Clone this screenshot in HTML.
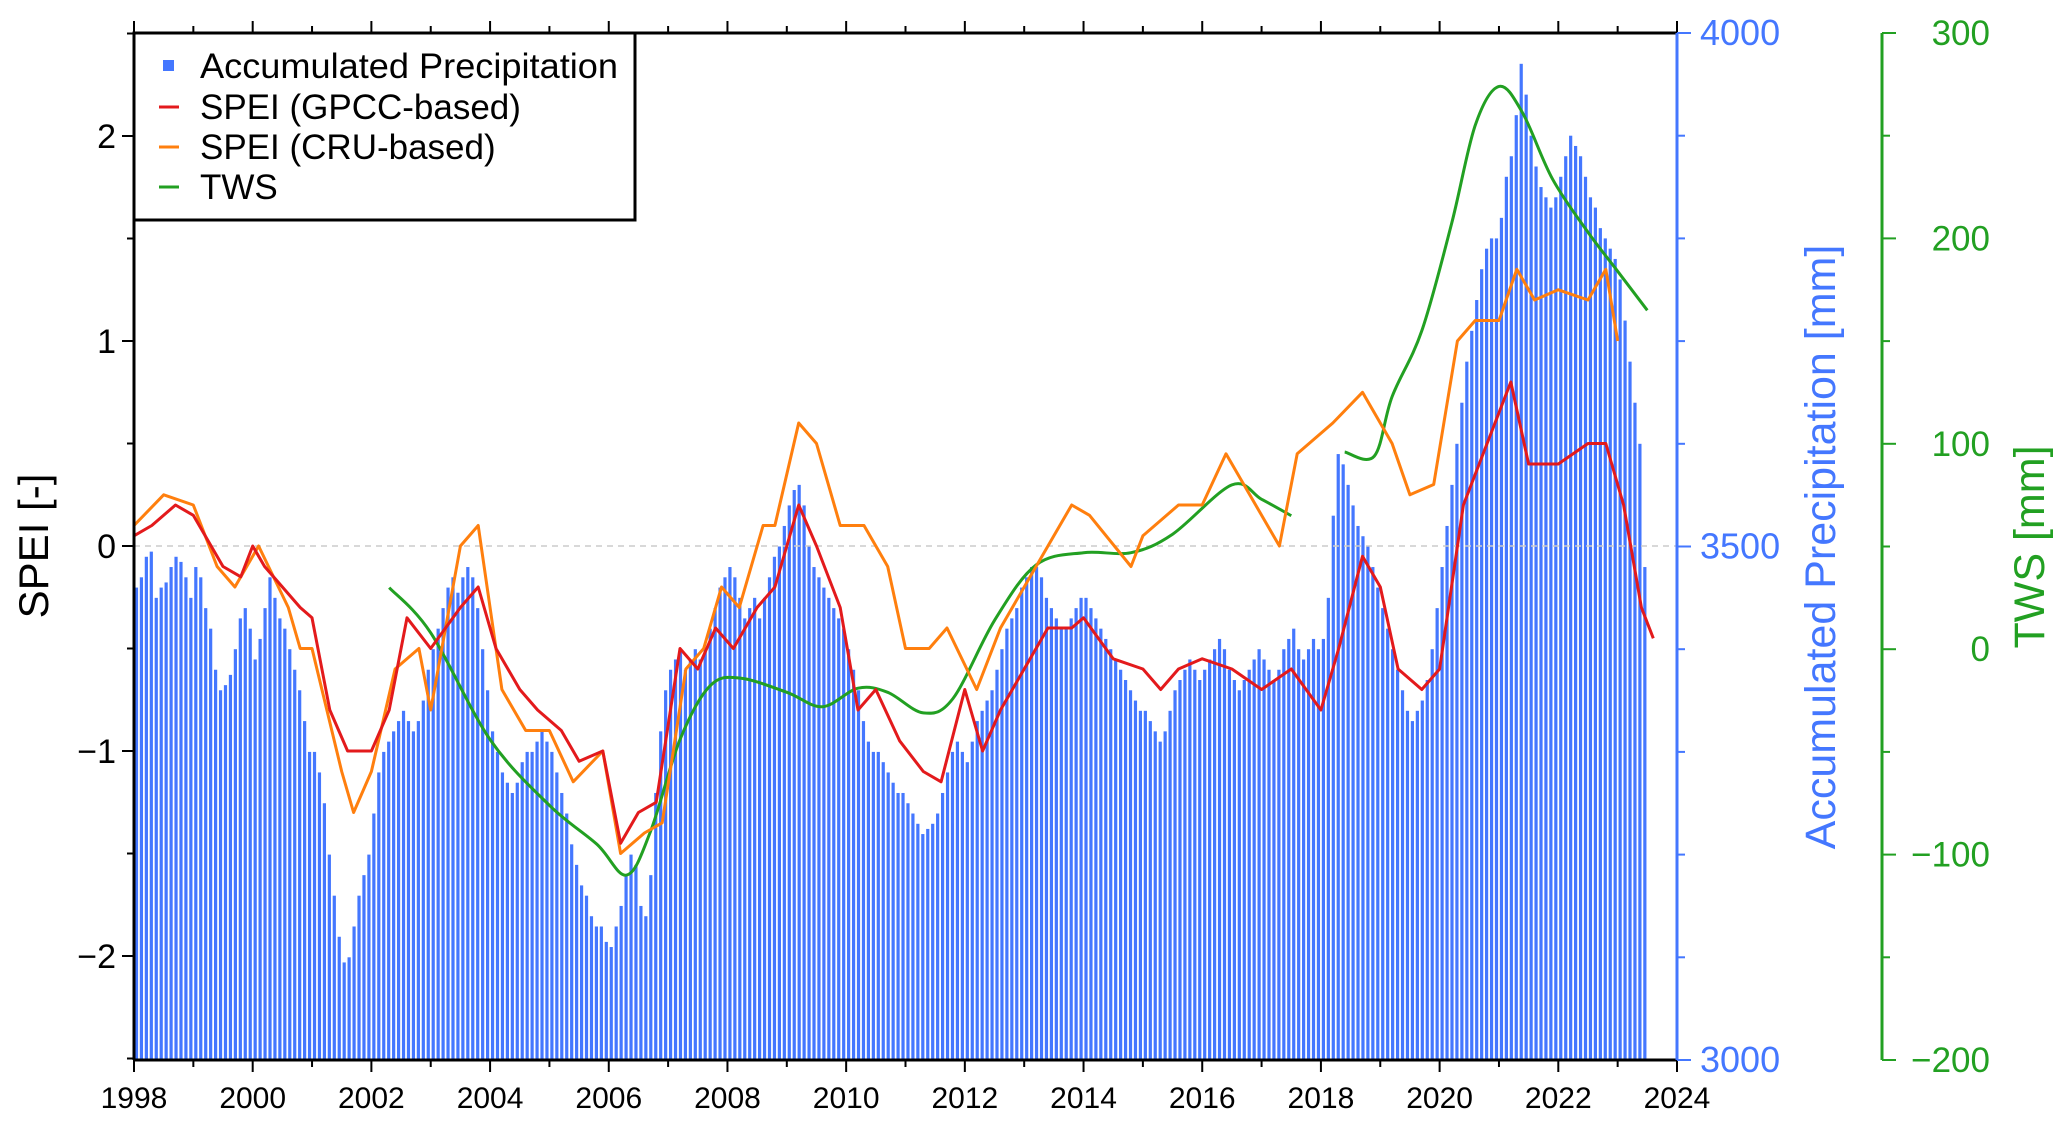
<!DOCTYPE html>
<html><head><meta charset="utf-8"><style>
html,body{margin:0;padding:0;background:#fff;}
svg{display:block;font-family:"Liberation Sans",sans-serif;}
</style></head><body>
<svg id="chart" width="2067" height="1128" viewBox="0 0 2067 1128" xmlns="http://www.w3.org/2000/svg">
<rect width="2067" height="1128" fill="#fff"/>
<g id="bars"></g>
<line x1="134" x2="1677" y1="546" y2="546" stroke="#ccc" stroke-width="1.5" stroke-dasharray="6,5"/>
<g id="lines"></g>
<g id="axes"></g>
<g>
<rect x="134" y="33" width="501" height="187" fill="#fff" stroke="#000" stroke-width="3"/>
<rect x="163" y="60" width="11" height="11" fill="#4477ff"/>
<text x="200" y="78" font-size="35" textLength="418" lengthAdjust="spacingAndGlyphs">Accumulated Precipitation</text>
<line x1="159" x2="179" y1="107" y2="107" stroke="#e31a1c" stroke-width="3"/>
<text x="200" y="119" font-size="35">SPEI (GPCC-based)</text>
<line x1="159" x2="179" y1="147" y2="147" stroke="#ff7f0e" stroke-width="3"/>
<text x="200" y="159" font-size="35">SPEI (CRU-based)</text>
<line x1="159" x2="179" y1="187" y2="187" stroke="#22a022" stroke-width="3"/>
<text x="200" y="199" font-size="35">TWS</text>
</g>
<text transform="translate(48,546) rotate(-90)" text-anchor="middle" font-size="42">SPEI [-]</text>
<text transform="translate(1835,547) rotate(-90)" text-anchor="middle" font-size="43" fill="#4477ff">Accumulated Precipitation [mm]</text>
<text transform="translate(2044,547) rotate(-90)" text-anchor="middle" font-size="43" fill="#22a022">TWS [mm]</text>
</svg>
<script>
const precipStartYear = 1998;
const precipValues = [
3460,3470,3490,3495,3450,3460,3465,3480,3490,3485,3470,3450,
3480,3470,3440,3420,3380,3360,3365,3375,3400,3430,3440,3420,
3390,3410,3440,3470,3450,3430,3420,3400,3380,3360,3330,3300,
3300,3280,3250,3200,3160,3120,3095,3100,3130,3160,3180,3200,
3240,3280,3300,3310,3320,3330,3340,3330,3320,3330,3350,3380,
3400,3420,3440,3460,3470,3455,3470,3480,3470,3440,3400,3360,
3320,3300,3280,3270,3260,3270,3290,3300,3300,3310,3320,3310,
3300,3280,3260,3240,3210,3190,3170,3160,3140,3130,3130,3115,
3110,3130,3150,3180,3200,3190,3150,3140,3180,3260,3320,3360,
3380,3390,3400,3380,3390,3400,3390,3400,3420,3440,3460,3470,
3480,3470,3450,3430,3440,3450,3430,3450,3470,3490,3500,3520,
3540,3555,3560,3540,3500,3480,3470,3460,3450,3440,3430,3420,
3400,3380,3360,3330,3310,3300,3300,3290,3280,3270,3260,3260,
3250,3240,3230,3220,3225,3230,3240,3260,3280,3300,3310,3300,
3290,3310,3330,3340,3350,3360,3380,3400,3420,3430,3440,3460,
3470,3480,3480,3470,3450,3440,3430,3420,3420,3430,3440,3450,
3450,3440,3430,3420,3410,3400,3390,3380,3370,3360,3350,3340,
3340,3330,3320,3310,3320,3340,3360,3370,3380,3390,3380,3370,
3380,3390,3400,3410,3400,3380,3370,3360,3370,3380,3390,3400,
3390,3380,3370,3380,3400,3410,3420,3400,3390,3400,3410,3400,
3410,3450,3530,3590,3580,3560,3540,3520,3510,3500,3480,3460,
3440,3420,3400,3380,3360,3340,3330,3340,3350,3370,3400,3440,
3480,3520,3560,3600,3640,3680,3710,3740,3770,3790,3800,3800,
3820,3860,3880,3920,3970,3940,3900,3870,3850,3840,3830,3840,
3860,3880,3900,3890,3880,3860,3840,3830,3810,3800,3790,3780,
3760,3720,3680,3640,3600,3480];
const gpccDates = [1998.0,1998.3,1998.7,1999.0,1999.5,1999.8,2000.0,2000.2,2000.5,2000.8,2001.0,2001.3,2001.6,2002.0,2002.3,2002.6,2003.0,2003.5,2003.8,2004.1,2004.5,2004.8,2005.2,2005.5,2005.9,2006.2,2006.5,2006.8,2007.2,2007.5,2007.8,2008.1,2008.5,2008.8,2009.2,2009.5,2009.9,2010.2,2010.5,2010.9,2011.3,2011.6,2012.0,2012.3,2012.6,2013.0,2013.4,2013.8,2014.0,2014.5,2015.0,2015.3,2015.6,2016.0,2016.5,2017.0,2017.5,2018.0,2018.3,2018.7,2019.0,2019.3,2019.7,2020.0,2020.4,2020.8,2021.2,2021.5,2022.0,2022.5,2022.8,2023.1,2023.4,2023.6];
const gpccValues = [0.05,0.1,0.2,0.15,-0.1,-0.15,0.0,-0.1,-0.2,-0.3,-0.35,-0.8,-1.0,-1.0,-0.8,-0.35,-0.5,-0.3,-0.2,-0.5,-0.7,-0.8,-0.9,-1.05,-1.0,-1.45,-1.3,-1.25,-0.5,-0.6,-0.4,-0.5,-0.3,-0.2,0.2,0.0,-0.3,-0.8,-0.7,-0.95,-1.1,-1.15,-0.7,-1.0,-0.8,-0.6,-0.4,-0.4,-0.35,-0.55,-0.6,-0.7,-0.6,-0.55,-0.6,-0.7,-0.6,-0.8,-0.5,-0.05,-0.2,-0.6,-0.7,-0.6,0.2,0.5,0.8,0.4,0.4,0.5,0.5,0.2,-0.3,-0.45];
const cruDates = [1998.0,1998.5,1999.0,1999.4,1999.7,2000.1,2000.6,2000.8,2001.0,2001.5,2001.7,2002.0,2002.4,2002.8,2003.0,2003.5,2003.8,2004.2,2004.6,2005.0,2005.4,2005.9,2006.2,2006.6,2006.9,2007.3,2007.6,2007.9,2008.2,2008.6,2008.8,2009.2,2009.5,2009.9,2010.3,2010.7,2011.0,2011.4,2011.7,2012.2,2012.6,2013.0,2013.8,2014.1,2014.8,2015.0,2015.6,2016.0,2016.4,2016.7,2017.3,2017.6,2018.2,2018.7,2019.2,2019.5,2019.9,2020.3,2020.6,2021.0,2021.3,2021.6,2022.0,2022.5,2022.8,2023.0];
const cruValues = [0.1,0.25,0.2,-0.1,-0.2,0.0,-0.3,-0.5,-0.5,-1.1,-1.3,-1.1,-0.6,-0.5,-0.8,0.0,0.1,-0.7,-0.9,-0.9,-1.15,-1.0,-1.5,-1.4,-1.35,-0.6,-0.5,-0.2,-0.3,0.1,0.1,0.6,0.5,0.1,0.1,-0.1,-0.5,-0.5,-0.4,-0.7,-0.4,-0.2,0.2,0.15,-0.1,0.05,0.2,0.2,0.45,0.3,0.0,0.45,0.6,0.75,0.5,0.25,0.3,1.0,1.1,1.1,1.35,1.2,1.25,1.2,1.35,1.0];
const tws1Dates = [2002.3,2003.0,2004.0,2005.0,2005.8,2006.3,2006.7,2007.2,2007.7,2008.2,2009.0,2009.6,2010.2,2010.7,2011.3,2011.8,2012.5,2013.2,2014.0,2014.8,2015.5,2016.5,2017.0,2017.5];
const tws1Values = [30,8,-44,-76,-95,-110,-89,-44,-18,-14,-21,-28,-19,-21,-31,-24,14,41,47,47,56,80,73,65];
const tws2Dates = [2018.4,2018.9,2019.2,2019.7,2020.2,2020.6,2021.0,2021.4,2021.9,2022.5,2023.0,2023.5];
const tws2Values = [96,94,123,155,207,255,274,261,229,203,184,165];
const xTickYears = [1998,2000,2002,2004,2006,2008,2010,2012,2014,2016,2018,2020,2022,2024];
const speiTicks = [-2,-1,0,1,2];
const precipTicks = [3000,3500,4000];
const twsTicks = [-200,-100,0,100,200,300];

const L=134,R=1677,T=33,B=1060;
const NS="http://www.w3.org/2000/svg";
const xs=y=>L+(y-1998)/26*(R-L);
const ySpei=v=>546-v*205;
const yP=v=>B-(v-3000)/1000*(B-T);
const yT=v=>B-(v+200)/500*(B-T);
function mk(tag,attrs,parent){const e=document.createElementNS(NS,tag);for(const k in attrs)e.setAttribute(k,attrs[k]);parent.appendChild(e);return e;}
const bars=document.getElementById('bars');
precipValues.forEach((v,i)=>{
  const x=xs(precipStartYear+(i+0.5)/12);
  const r=mk('rect',{x:x-1.6,y:yP(v),width:3.2,height:B-yP(v),fill:'#4477ff'},bars);
  
  
});
const lines=document.getElementById('lines');
function line(d,v,fy,col,name){
  const pts=d.map((t,i)=>xs(t).toFixed(1)+','+fy(v[i]).toFixed(1)).join(' ');
  const p=mk('polyline',{points:pts,fill:'none',stroke:col,'stroke-width':3,'stroke-linejoin':'round'},lines);
  
  
}
function smooth(d,v,fy,col,name){
  const P=d.map((t,i)=>[xs(t),fy(v[i])]);
  let s='M'+P[0][0].toFixed(1)+','+P[0][1].toFixed(1);
  for(let i=0;i<P.length-1;i++){
    const p0=P[Math.max(0,i-1)],p1=P[i],p2=P[i+1],p3=P[Math.min(P.length-1,i+2)];
    const c1=[p1[0]+(p2[0]-p0[0])/6,p1[1]+(p2[1]-p0[1])/6];
    const c2=[p2[0]-(p3[0]-p1[0])/6,p2[1]-(p3[1]-p1[1])/6];
    s+=' C'+c1.map(n=>n.toFixed(1)).join(',')+' '+c2.map(n=>n.toFixed(1)).join(',')+' '+p2.map(n=>n.toFixed(1)).join(',');
  }
  const p=mk('path',{d:s,fill:'none',stroke:col,'stroke-width':3},lines);
  
  
}
smooth(tws1Dates,tws1Values,yT,'#22a022','tws-line-grace');
smooth(tws2Dates,tws2Values,yT,'#22a022','tws-line-grace-fo');
line(cruDates,cruValues,ySpei,'#ff7f0e','spei-cru-line');
line(gpccDates,gpccValues,ySpei,'#e31a1c','spei-gpcc-line');

const ax=document.getElementById('axes');
mk('line',{x1:L,x2:L,y1:T,y2:B,stroke:'#000','stroke-width':3},ax);
mk('line',{x1:L,x2:R,y1:B,y2:B,stroke:'#000','stroke-width':3},ax);
mk('line',{x1:L,x2:R,y1:T,y2:T,stroke:'#000','stroke-width':3},ax);
mk('line',{x1:R,x2:R,y1:T,y2:B,stroke:'#4477ff','stroke-width':3},ax);
mk('line',{x1:1882,x2:1882,y1:T,y2:B,stroke:'#22a022','stroke-width':3},ax);
for(let y=1998;y<=2024;y++){
  const x=xs(y),maj=(y%2===0);
  mk('line',{x1:x,x2:x,y1:B,y2:B+(maj?12:7),stroke:'#000','stroke-width':2},ax);
  mk('line',{x1:x,x2:x,y1:T,y2:T-(maj?12:7),stroke:'#000','stroke-width':2},ax);
}
xTickYears.forEach(y=>{
  const t=mk('text',{x:xs(y),y:1108,'text-anchor':'middle','font-size':30},ax);
  t.textContent=y;
  
  
});
for(let v=-2.5;v<=2.5;v+=0.5){
  const maj=Math.abs(v-Math.round(v))<1e-6;
  mk('line',{x1:L,x2:L-(maj?12:7),y1:ySpei(v),y2:ySpei(v),stroke:'#000','stroke-width':2},ax);
}
speiTicks.forEach(v=>{
  const t=mk('text',{x:116,y:ySpei(v)+12,'text-anchor':'end','font-size':34},ax);
  t.textContent=v<0?'\u2212'+Math.abs(v):v;
  
  
});
for(let v=3000;v<=4000;v+=100){
  mk('line',{x1:R,x2:R+(v%500===0?14:8),y1:yP(v),y2:yP(v),stroke:'#4477ff','stroke-width':2},ax);
}
precipTicks.forEach(v=>{
  const t=mk('text',{x:1700,y:yP(v)+12,'font-size':36,fill:'#4477ff'},ax);
  t.textContent=v;
  
  
});
for(let v=-200;v<=300;v+=50){
  mk('line',{x1:1882,x2:1882+(v%100===0?14:8),y1:yT(v),y2:yT(v),stroke:'#22a022','stroke-width':2},ax);
}
twsTicks.forEach(v=>{
  const t=mk('text',{x:1990,y:yT(v)+12,'text-anchor':'end','font-size':35,fill:'#22a022'},ax);
  t.textContent=v<0?'\u2212'+Math.abs(v):v;
  
  
});
</script>
</body></html>
